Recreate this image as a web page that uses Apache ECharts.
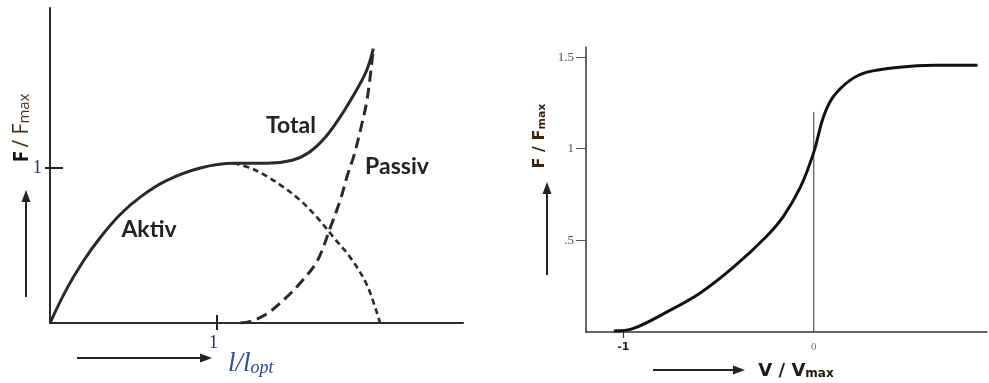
<!DOCTYPE html>
<html><head><meta charset="utf-8">
<script src="https://cdn.jsdelivr.net/npm/echarts@6/dist/echarts.min.js"></script>
<style>html,body{margin:0;padding:0;background:#fff}#c{width:989px;height:383px}</style>
</head><body><div id="c"></div>
<script>
// ---- Force–length panel (left) ----
const lenTotal = [[0,0],[0.1,0.22],[0.2,0.40],[0.3,0.55],[0.42,0.70],[0.55,0.82],[0.7,0.92],[0.9,1.0],[1.1,1.03],[1.3,1.03],[1.45,1.05],[1.55,1.1],[1.65,1.2],[1.75,1.35],[1.85,1.53],[1.9,1.64],[1.936,1.77]];
const lenActiveDesc = [[1.1,1.03],[1.2,1.0],[1.3,0.945],[1.4,0.875],[1.5,0.79],[1.6,0.68],[1.7,0.55],[1.8,0.42],[1.9,0.24],[1.976,0]];
const lenPassive = [[1.14,0],[1.2,0.01],[1.3,0.06],[1.4,0.15],[1.5,0.26],[1.6,0.40],[1.68,0.62],[1.74,0.8],[1.78,0.95],[1.82,1.08],[1.86,1.25],[1.9,1.45],[1.936,1.77]];
const lenXTicks = [1];
const lenYTicks = [1];
const lenLabels = ['Aktiv','Total','Passiv'];
// ---- Force–velocity panel (right) ----
const velCurve = [[-1.05,0.005],[-0.95,0.018],[-0.77,0.11],[-0.6,0.21],[-0.42,0.355],[-0.25,0.52],[-0.16,0.63],[-0.07,0.79],[0,0.98],[0.05,1.17],[0.1,1.28],[0.19,1.373],[0.28,1.418],[0.45,1.445],[0.63,1.455],[0.86,1.455]];
const velZeroLine = [[0,0],[0,1.2]];
const velXTicks = [-1,0];
const velYTicks = [0.5,1,1.5];

const chart = echarts.init(document.getElementById('c'));
const axisCol = '#2b2b2b';
function arrow(x1,y1,x2,y2){
  const dx=x2-x1, dy=y2-y1, L=Math.hypot(dx,dy), ux=dx/L, uy=dy/L, hl=12, hw=4.5;
  const bx=x2-ux*hl, by=y2-uy*hl;
  return [
    {type:'line', shape:{x1:x1,y1:y1,x2:bx,y2:by}, style:{stroke:'#222',lineWidth:2}},
    {type:'polygon', shape:{points:[[x2,y2],[bx-uy*hw,by+ux*hw],[bx+uy*hw,by-ux*hw]]}, style:{fill:'#222'}}
  ];
}
const labelFont = 'Lato';
chart.setOption({
  animation:false,
  backgroundColor:'#fff',
  grid:[
    {left:50, top:8, width:413, height:315},
    {left:586, top:47, width:401, height:285}
  ],
  xAxis:[
    {gridIndex:0, type:'value', min:0, max:2.473, position:'bottom',
     axisLine:{onZero:false, lineStyle:{color:axisCol,width:2}}, splitLine:{show:false},
     axisTick:{customValues:lenXTicks, inside:true, length:8, lineStyle:{color:'#222',width:2}},
     axisLabel:{customValues:lenXTicks, margin:11, color:'#2a3470', fontSize:19, fontFamily:'Liberation Serif', padding:[0,7,0,0]}},
    {gridIndex:0, type:'value', min:0, max:2.473, position:'bottom',
     axisLine:{show:false, onZero:false}, splitLine:{show:false},
     axisTick:{customValues:lenXTicks, length:7, lineStyle:{color:'#222',width:2}},
     axisLabel:{show:false}},
    {gridIndex:1, type:'value', min:-1.196, max:0.91, position:'bottom',
     axisLine:{onZero:false, lineStyle:{color:'#333',width:1.5}}, splitLine:{show:false},
     axisTick:{customValues:[-1], length:6, lineStyle:{color:'#333',width:1.2}},
     axisLabel:{customValues:velXTicks, margin:10,
       formatter:v=> v===-1 ? '{a|-1}' : '{b|0}',
       rich:{a:{fontFamily:'DejaVu Sans',fontWeight:'bold',fontSize:11,color:'#222'},
             b:{fontFamily:'Liberation Serif',fontSize:11,color:'#777'}}}}
  ],
  yAxis:[
    {gridIndex:0, type:'value', min:0, max:2.032, position:'left',
     axisLine:{onZero:false, lineStyle:{color:axisCol,width:2}}, splitLine:{show:false},
     axisTick:{customValues:lenYTicks, length:5, lineStyle:{color:'#222',width:2}},
     axisLabel:{customValues:lenYTicks, margin:8, color:'#2a3470', fontSize:19, fontFamily:'Liberation Serif', padding:[6,0,0,0]}},
    {gridIndex:0, type:'value', min:0, max:2.032, position:'left',
     axisLine:{show:false, onZero:false}, splitLine:{show:false},
     axisTick:{customValues:lenYTicks, inside:true, length:13, lineStyle:{color:'#222',width:2}},
     axisLabel:{show:false}},
    {gridIndex:1, type:'value', min:0, max:1.555, position:'left',
     axisLine:{onZero:false, lineStyle:{color:'#333',width:1.5}}, splitLine:{show:false},
     axisTick:{customValues:velYTicks, length:10, lineStyle:{color:'#555',width:1}},
     axisLabel:{customValues:velYTicks, margin:12, color:'#555', fontSize:13, fontFamily:'Liberation Serif',
       formatter:v=> v===0.5 ? '.5' : String(v)}}
  ],
  series:[
    {type:'line', xAxisIndex:0, yAxisIndex:0, data:lenTotal, smooth:0.35, symbol:'none',
     lineStyle:{color:'#2a2a2a', width:3}},
    {type:'line', xAxisIndex:0, yAxisIndex:0, data:lenActiveDesc, smooth:0.35, symbol:'none',
     lineStyle:{color:'#2a2a2a', width:2.6, type:[6,4]}},
    {type:'line', xAxisIndex:0, yAxisIndex:0, data:lenPassive, smooth:0.35, symbol:'none',
     lineStyle:{color:'#2a2a2a', width:3, type:[11,6]}},
    {type:'line', xAxisIndex:2, yAxisIndex:2, data:velZeroLine, symbol:'none',
     lineStyle:{color:'#555', width:1.2}},
    {type:'line', xAxisIndex:2, yAxisIndex:2, data:velCurve, smooth:0.35, symbol:'none',
     lineStyle:{color:'#111', width:3}}
  ],
  graphic:[
    ...arrow(26,297,26,190),
    ...arrow(77,358,212,358),
    ...arrow(547,275,547,182),
    ...arrow(653,370,745,370),
    {type:'text', x:149, y:230, style:{text:lenLabels[0], font:'bold 23px '+labelFont, fill:'#222', align:'center', verticalAlign:'middle'}},
    {type:'text', x:291, y:126, style:{text:lenLabels[1], font:'bold 23px '+labelFont, fill:'#222', align:'center', verticalAlign:'middle'}},
    {type:'text', x:397, y:167, style:{text:lenLabels[2], font:'bold 23px '+labelFont, fill:'#222', align:'center', verticalAlign:'middle'}},
    {type:'text', x:22, y:128, rotation:Math.PI/2, style:{
      text:'{f|F} {s|/ F}{m|max}', align:'center', verticalAlign:'middle',
      rich:{f:{font:'bold 21px "Open Sans"', fill:'#111', verticalAlign:'bottom'},
            s:{font:'21px "Open Sans"', fill:'#4a3018', verticalAlign:'bottom'},
            m:{font:'15px "Open Sans"', fill:'#4a3018', verticalAlign:'bottom'}}}},
    {type:'text', x:540, y:136, rotation:Math.PI/2, style:{
      text:'{f|F / F}{m|max}', align:'center', verticalAlign:'middle',
      rich:{f:{font:'bold 16px "DejaVu Sans"', fill:'#3a2410', verticalAlign:'bottom'},
            m:{font:'bold 11px "DejaVu Sans"', fill:'#3a2410', verticalAlign:'bottom'}}}},
    {type:'text', x:796, y:371, style:{
      text:'{f|V / V}{m|max}', align:'center', verticalAlign:'middle',
      rich:{f:{font:'bold 18px "DejaVu Sans"', fill:'#1f1a16', verticalAlign:'bottom'},
            m:{font:'bold 12px "DejaVu Sans"', fill:'#1f1a16', verticalAlign:'bottom'}}}},
    {type:'text', x:228, y:364, style:{
      text:'{i|l/l}{s|opt}', align:'left', verticalAlign:'middle',
      rich:{i:{font:'italic 27px "Liberation Serif"', fill:'#2a4aa0', verticalAlign:'bottom'},
            s:{font:'italic 18px "Liberation Serif"', fill:'#2a4aa0', verticalAlign:'bottom'}}}}
  ]
});
</script></body></html>
